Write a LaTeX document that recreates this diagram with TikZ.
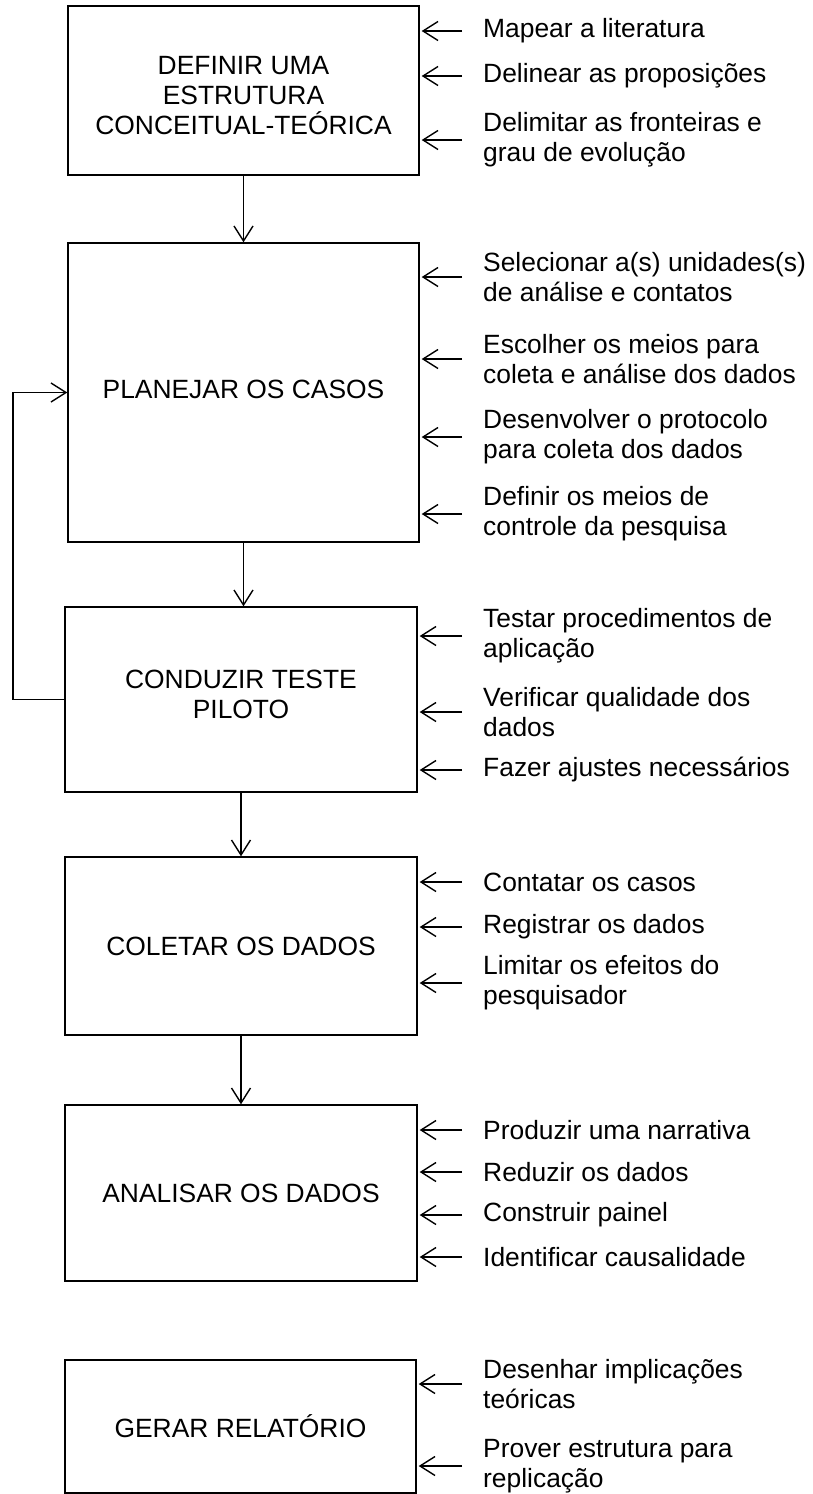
\documentclass[tikz,border=0pt]{standalone}
\usepackage{fontspec}
\setmainfont{Liberation Sans}
\usetikzlibrary{arrows.meta}
\begin{document}
\begin{tikzpicture}[x=1pt,y=-1pt,
  box/.style={draw, line width=1.4pt, align=center, inner sep=0pt,
    font=\fontsize{26.4}{30}\selectfont},
  boxlbl/.style={align=center, inner sep=0pt,
    font=\fontsize{26.4}{30}\selectfont},
  item/.style={anchor=west, align=left, inner sep=0pt,
    font=\fontsize{26.4}{30}\selectfont},
  arr/.style={line width=1.4pt, -{Straight Barb[length=15pt,width=19pt]}},
  sarr/.style={arr, shorten >=2pt}]
\useasboundingbox (0,0) rectangle (812,1494);

% boxes
\node[box, minimum width=351pt, minimum height=169pt,
  label={[boxlbl, yshift=-5pt]center:{DEFINIR UMA\\ESTRUTURA\\CONCEITUAL-TEÓRICA}}]
  (b1) at (243.5,90.5) {};
\node[box, minimum width=351pt, minimum height=299pt,
  label={[boxlbl, yshift=3.5pt]center:{PLANEJAR OS CASOS}}]
  (b2) at (243.5,392.5) {};
\node[box, minimum width=352pt, minimum height=185pt,
  label={[boxlbl, yshift=5pt]center:{CONDUZIR TESTE\\PILOTO}}]
  (b3) at (241,699.5) {};
\node[box, minimum width=352pt, minimum height=178pt] (b4) at (241,946)
  {COLETAR OS DADOS};
\node[box, minimum width=352pt, minimum height=176pt] (b5) at (241,1193)
  {ANALISAR OS DADOS};
\node[box, minimum width=351pt, minimum height=133pt] (b6) at (240.5,1426.5)
  {GERAR RELATÓRIO};

% items
\node[item] (i11) at (483,31) {Mapear a literatura};
\node[item] (i12) at (483,76) {Delinear as proposições};
\node[item] (i13) at (483,140) {Delimitar as fronteiras e\\grau de evolução};

\node[item] (i21) at (483,277) {Selecionar a(s) unidades(s)\\de análise e contatos};
\node[item] (i22) at (483,359) {Escolher os meios para\\coleta e análise dos dados};
\node[item] (i23) at (483,437) {Desenvolver o protocolo\\para coleta dos dados};
\node[item] (i24) at (483,514) {Definir os meios de\\controle da pesquisa};

\node[item] (i31) at (483,636) {Testar procedimentos de\\aplicação};
\node[item] (i32) at (483,712) {Verificar qualidade dos\\dados};
\node[item] (i33) at (483,770) {Fazer ajustes necessários};

\node[item] (i41) at (483,882) {Contatar os casos};
\node[item] (i42) at (483,927) {Registrar os dados};
\node[item] (i43) at (483,983) {Limitar os efeitos do\\pesquisador};

\node[item] (i51) at (483,1130) {Produzir uma narrativa};
\node[item] (i52) at (483,1172) {Reduzir os dados};
\node[item] (i53) at (483,1215) {Construir painel};
\node[item] (i54) at (483,1257) {Identificar causalidade};

\node[item] (i61) at (483,1384) {Desenhar implicações\\teóricas};
\node[item] (i62) at (483,1466) {Prover estrutura para\\replicação};

% side arrows
\foreach \i/\b in {i11/b1,i12/b1,i13/b1,i21/b2,i22/b2,i23/b2,i24/b2,
                   i31/b3,i32/b3,i33/b3,i41/b4,i42/b4,i43/b4,
                   i51/b5,i52/b5,i53/b5,i54/b5,i61/b6,i62/b6}
  \draw[sarr] ([xshift=-21pt]\i.west) -- (\i.west -| \b.east);

% flow arrows
\draw[arr] (b1.south) -- (b1.south |- b2.north);
\draw[arr] (b2.south) -- (b2.south |- b3.north);
\draw[arr] (b3.south) -- (b3.south |- b4.north);
\draw[arr] (b4.south) -- (b4.south |- b5.north);

% feedback
\coordinate (fb) at (13,0);
\draw[arr] (b3.west) -- (b3.west -| fb) |- (b2.west);
\end{tikzpicture}
\end{document}
